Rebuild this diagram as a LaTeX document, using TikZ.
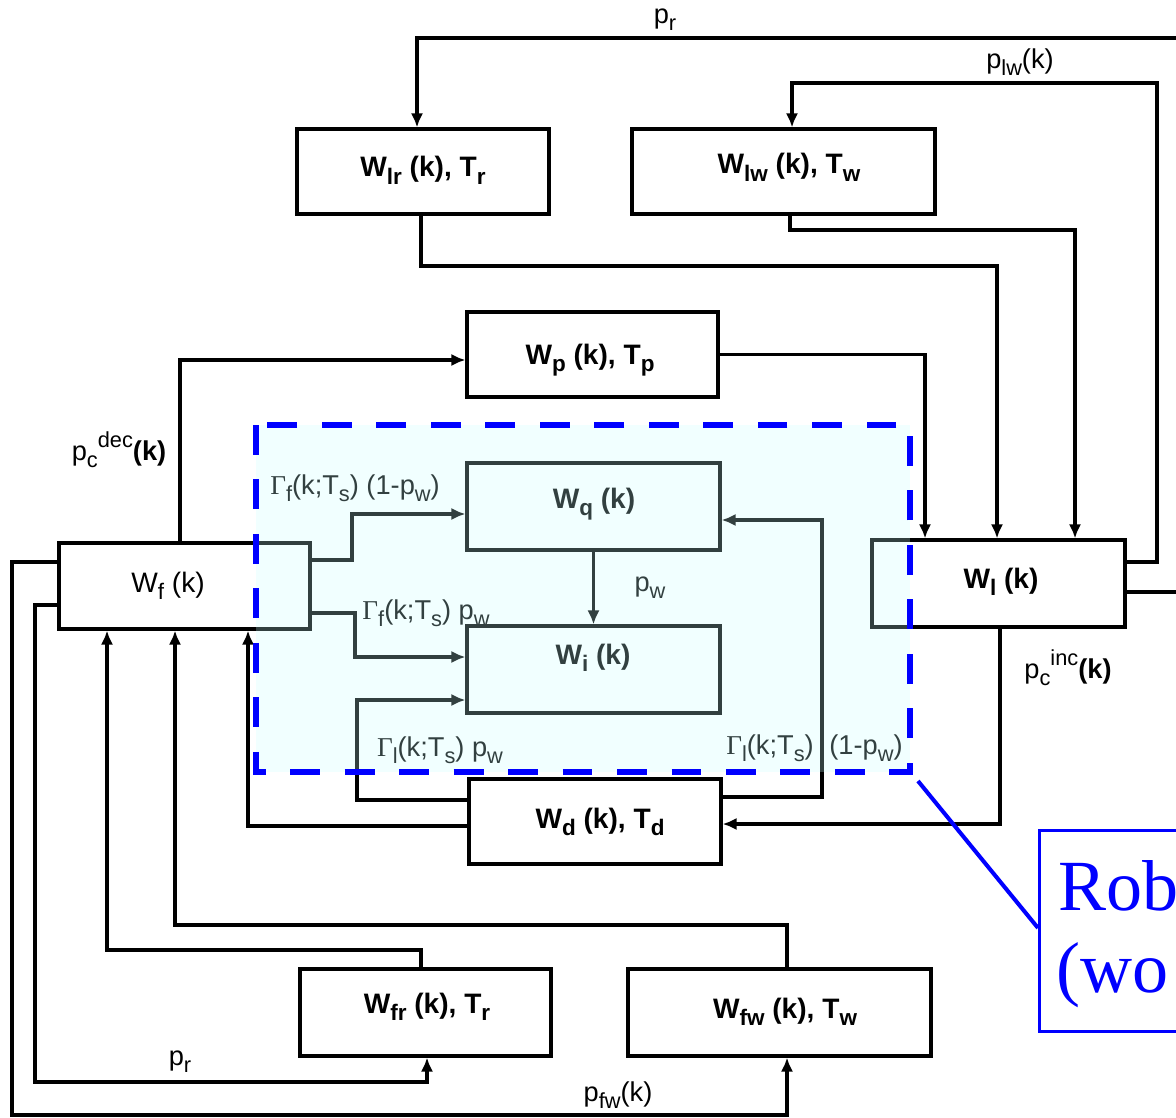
\documentclass[tikz,border=0pt]{standalone}
\usepackage{fontspec}
\setmainfont{Liberation Sans}
\newfontfamily\serifcallout{Liberation Serif}
\usetikzlibrary{arrows.meta}
\makeatletter
\newcommand{\sbx}[1]{\raisebox{-0.5ex}{\fontsize{\fpeval{0.8*\f@size}}{1}\selectfont #1}}
\newcommand{\spx}[1]{\raisebox{0.9ex}{\fontsize{\fpeval{0.8*\f@size}}{1}\selectfont #1}}
\makeatother
\newcommand{\Gm}{{\serifcallout Γ}}
\begin{document}
\begin{tikzpicture}[x=0.02cm,y=-0.02cm,
 blk/.style args={#1/#2}{draw=black,line width=1.8pt,minimum width={#1*0.02cm},minimum height={#2*0.02cm},inner sep=0pt},
 conn/.style={draw=black,line width=1.8pt},
 arr/.style={conn,-{Latex[length=8pt,width=7pt]}},
 bl/.style={font=\fontsize{16}{18}\selectfont\bfseries,inner sep=0pt,anchor=base},
 sl/.style={font=\fontsize{15.5}{17}\selectfont,inner sep=0pt}]
\useasboundingbox (0,0) rectangle (1176,1118);
\clip (0,0) rectangle (1176,1118);
\fill[white] (0,0) rectangle (1176,1118);

% boxes
\node[blk=252/85] (Wlr) at (423,171.5) {};
\node[blk=303/85] (Wlw) at (783.5,171.5) {};
\node[blk=251/85] (Wp) at (592.5,354.5) {};
\node[blk=251/86] (Wf) at (184.5,586) {};
\node[blk=253/87] (Wq) at (593.5,506.5) {};
\node[blk=253/87] (Wi) at (593.5,669.5) {};
\node[blk=253/87] (Wl) at (998.5,583.5) {};
\node[blk=252/85] (Wd) at (595,821.5) {};
\node[blk=251/87] (Wfr) at (425.5,1012.5) {};
\node[blk=303/87] (Wfw) at (779.5,1012.5) {};

% box texts
\node[bl] (tWlr) at (423,177) {W\sbx{lr} (k), T\sbx{r}};
\node[bl] (tWlw) at (789,174) {W\sbx{lw} (k), T\sbx{w}};
\node[bl] (tWp) at (590,364) {W\sbx{p} (k), T\sbx{p}};
\node[bl,font=\fontsize{16}{18}\selectfont] (tWf) at (168,592) {W\sbx{f} (k)};
\node[bl] (tWq) at (594,508) {W\sbx{q} (k)};
\node[bl] (tWi) at (593,664) {W\sbx{i} (k)};
\node[bl] (tWl) at (1001,588) {W\sbx{l} (k)};
\node[bl] (tWd) at (600,828) {W\sbx{d} (k), T\sbx{d}};
\node[bl] (tWfr) at (427,1013) {W\sbx{fr} (k), T\sbx{r}};
\node[bl] (tWfw) at (785,1018) {W\sbx{fw} (k), T\sbx{w}};

% connectors
\draw[arr] (Wl.east |- 0,592) -- (1200,592) -- (1200,38) -- (417,38) -- (Wlr.north -| 417,0);
\draw[arr] (Wl.east |- 0,562) -- (1157,562) -- (1157,83) -- (792,83) -- (Wlw.north -| 792,0);
\draw[arr] (Wlr.south -| 421,0) -- (421,266) -- (997,266) -- (Wl.north -| 997,0);
\draw[arr] (Wlw.south -| 790,0) -- (790,230) -- (1075,230) -- (Wl.north -| 1075,0);
\draw[arr] (Wp.east) -- (Wp.east -| 925,0) -- (Wl.north -| 925,0);
\draw[arr] (Wf.north -| 180,0) -- (180,360) -- (Wp.west |- 0,360);
\draw[arr] (Wf.east |- 0,560) -- (352,560) -- (352,514) -- (Wq.west |- 0,514);
\draw[arr] (Wf.east |- 0,613) -- (355,613) -- (355,657) -- (Wi.west |- 0,657);
\draw[arr] (Wq.south) -- (Wi.north);
\draw[arr] (Wd.west |- 0,800) -- (357,800) -- (357,700) -- (Wi.west |- 0,700);
\draw[arr] (Wd.east |- 0,797) -- (822,797) -- (822,520) -- (Wq.east |- 0,520);
\draw[arr] (Wd.west |- 0,826) -- (248,826) -- (Wf.south -| 248,0);
\draw[arr] (Wl.south -| 1000,0) -- (1000,824) -- (Wd.east |- 0,824);
\draw[arr] (Wfr.north -| 421,0) -- (421,950) -- (107,950) -- (Wf.south -| 107,0);
\draw[arr] (Wfw.north -| 787,0) -- (787,925) -- (175,925) -- (Wf.south -| 175,0);
\draw[arr] (Wf.west |- 0,562) -- (12,562) -- (12,1115) -- (787,1115) -- (Wfw.south -| 787,0);
\draw[arr] (Wf.west |- 0,605) -- (35,605) -- (35,1082) -- (427,1082) -- (Wfr.south -| 427,0);

% labels
\node[sl] (lpr) at (665,20) {p\sbx{r}};
\node[sl] (lplw) at (1020,62) {p\sbx{lw}(k)};
\node[sl] (lpdec) at (119,450) {p\sbx{c}\spx{dec}\textbf{(k)}};
\node[sl] (lpinc) at (1068,668) {p\sbx{c}\spx{inc}\textbf{(k)}};
\node[sl] (lg1) at (355,488) {\Gm\sbx{f}(k;T\sbx{s}) (1-p\sbx{w})};
\node[sl] (lg2) at (426,613) {\Gm\sbx{f}(k;T\sbx{s}) p\sbx{w}};
\node[sl] (lpw) at (650,588) {p\sbx{w}};
\node[sl] (lg3) at (440,750) {\Gm\sbx{l}(k;T\sbx{s}) p\sbx{w}};
\node[sl] (lg4) at (770,748) {\Gm\sbx{l}(k;T\sbx{s})};
\node[sl] (lg5) at (866,748) {(1-p\sbx{w})};
\node[sl] (lpr2) at (180,1062) {p\sbx{r}};
\node[sl] (lpfw) at (618,1095) {p\sbx{fw}(k)};

% tinted region
\fill[fill={rgb,255:red,200;green,255;blue,255}, fill opacity=0.25] (256,425) rectangle (910,772);
\draw[blue, line width=3.4pt, dash pattern=on 17pt off 14pt] (256,425) rectangle (910,772);

% callout
\node[draw=blue, line width=1.9pt, anchor=north west, minimum width={300*0.02cm}, minimum height={201*0.02cm}, inner sep=0pt] (callout) at (1038,829) {};
\coordinate (cl) at (918,781);
\draw[blue, line width=2.3pt] (cl) -- (callout.west |- 0,928);
\node[anchor=base west, font=\serifcallout\fontsize{41}{45}\selectfont, text=blue, inner sep=0pt] (cr) at (1058,910) {Rob};
\node[anchor=base west, font=\serifcallout\fontsize{41}{45}\selectfont, text=blue, inner sep=0pt] (cw) at (1056,992) {(wo};
\end{tikzpicture}
\end{document}
